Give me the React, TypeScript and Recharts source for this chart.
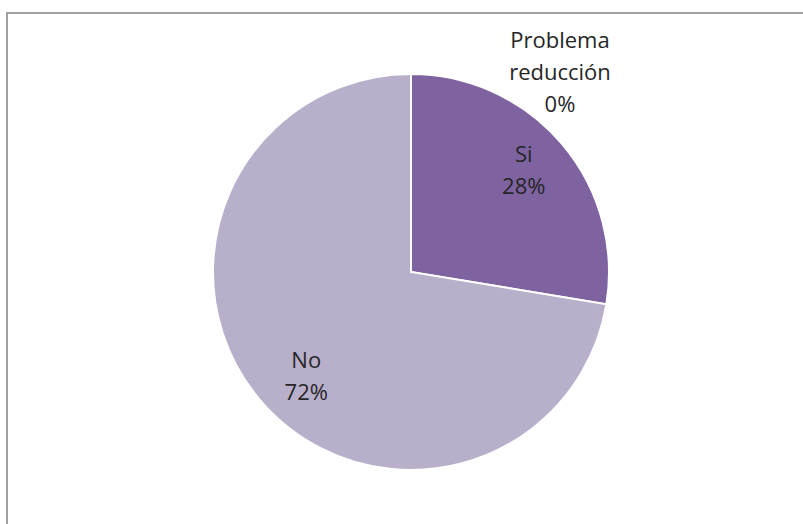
import React from 'react';
import { PieChart, Pie, Cell } from 'recharts';

const labels = ['Problema reducción', 'Si', 'No'];
const values = [0, 27.6, 72.4];
const colors = ['#4F81BD', '#7F63A1', '#B8AFCB'];

const data = labels.map((name, i) => ({ name, value: values[i] }));
const total = values.reduce((a, b) => a + b, 0);

const RADIAN = Math.PI / 180;

const renderLabel = (props: any) => {
  const { cx, cy, midAngle, outerRadius, index, name, value } = props;
  const pct = `${Math.round((value / total) * 100)}%`;
  let x: number;
  let y: number;
  if (value === 0) {
    // zero slice label sits outside, above right
    x = cx + 149;
    y = cy - 232;
  } else {
    const r = outerRadius * 0.755;
    const a = midAngle + 3;
    x = cx + r * Math.cos(-a * RADIAN) + 4;
    y = cy + r * Math.sin(-a * RADIAN) - 15;
  }
  const lines = value === 0 ? ['Problema', 'reducción', pct] : [name, pct];
  return (
    <text key={`l-${index}`} x={x} y={y} textAnchor="middle" fill="#262626" fontSize={22} fontFamily="'Open Sans', sans-serif">
      {lines.map((t, i) => (
        <tspan key={i} x={x} dy={i === 0 ? 8 : 32}>{t}</tspan>
      ))}
    </text>
  );
};

export default function App() {
  return (
    <div style={{ position: 'fixed', left: 0, top: 0, width: 803, height: 524, background: '#fff', overflow: 'hidden' }}>
      <div style={{ position: 'absolute', left: 6, top: 12, width: 900, height: 600, borderTop: '2px solid #a0a0a0', borderLeft: '2px solid #a0a0a0' }} />
      <div style={{ position: 'absolute', left: 0, top: 0 }}>
        <PieChart width={803} height={524}>
          <Pie
            data={data}
            dataKey="value"
            nameKey="name"
            cx={406}
            cy={267}
            outerRadius={198}
            startAngle={90}
            endAngle={-270}
            stroke="#ffffff"
            strokeWidth={2}
            label={renderLabel}
            labelLine={false}
            isAnimationActive={false}
          >
            {data.map((d, i) => (
              <Cell key={d.name} fill={colors[i]} />
            ))}
          </Pie>
        </PieChart>
      </div>
    </div>
  );
}
